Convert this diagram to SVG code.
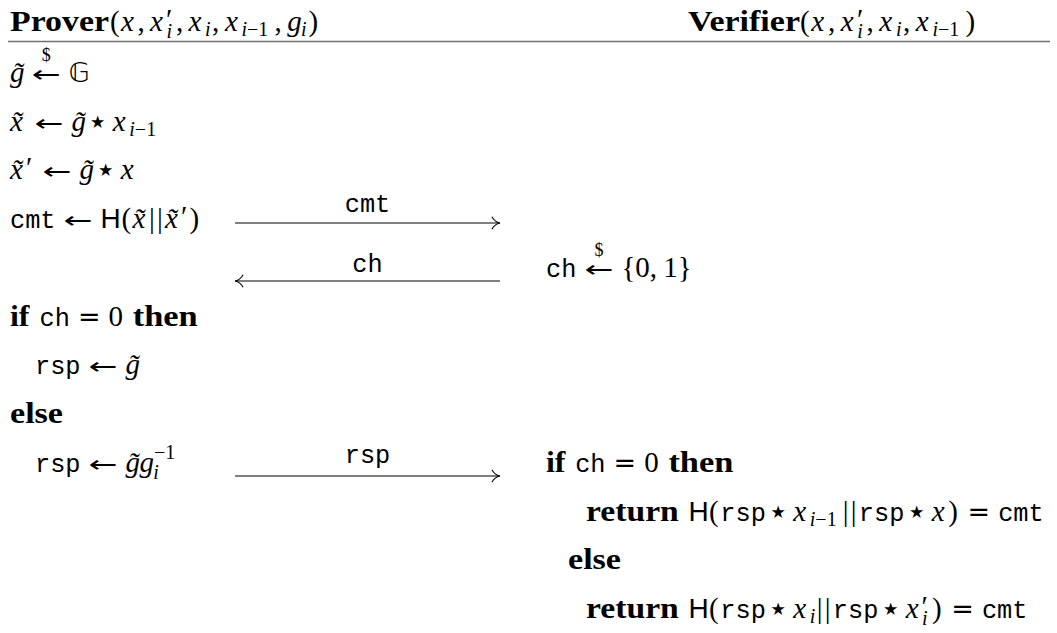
<svg xmlns="http://www.w3.org/2000/svg" width="1057" height="633" viewBox="0 0 1057 633">
<style>
text { font-family: "Liberation Serif", serif; font-size: 29px; fill: #000; }
.it { font-style: italic; }
.bf { font-weight: bold; }
.tt { font-family: "Liberation Mono", monospace; font-size: 25.3px; font-style: normal; }
.sf { font-family: "Liberation Sans", sans-serif; font-size: 28px; font-style: normal; }
.sc { font-size: 20px; }
.ar { font-family: "DejaVu Sans", sans-serif; font-size: 23px; }
.eq { font-family: "DejaVu Sans", sans-serif; font-size: 26px; }
.op { font-family: "DejaVu Sans", sans-serif; font-size: 34px; font-style: normal; }
.bb { font-family: "DejaVu Sans", sans-serif; font-size: 27px; }
.dl { font-family: "Liberation Serif", serif; font-size: 18px; }
.lbl { font-family: "Liberation Mono", monospace; font-size: 25.3px; text-anchor: middle; }
.ln { stroke: #000; stroke-width: 1.15; fill: none; }
.rule { stroke: #707070; stroke-width: 1.7; }
</style>
<defs>
<marker id="headR" viewBox="0 0 10 14" refX="9.6" refY="7" markerWidth="10" markerHeight="14" markerUnits="userSpaceOnUse" orient="auto">
<path d="M1.5,0.8 C3.5,4.5 6.5,6.4 9.6,7 C6.5,7.6 3.5,9.5 1.5,13.2" fill="none" stroke="#000" stroke-width="1.1"/>
</marker>
</defs>

<g id="prover-header">
<text class="bf" x="10" y="31" textLength="99" lengthAdjust="spacingAndGlyphs">Prover</text>
<text y="31"><tspan x="110">(</tspan><tspan class="it" x="121">x</tspan><tspan x="137.5">,</tspan><tspan class="it" x="150">x</tspan><tspan x="166" y="29">′</tspan><tspan class="it sc" x="166.5" y="38">i</tspan><tspan x="176" y="31">,</tspan><tspan class="it" x="188.5">x</tspan><tspan class="it sc" x="205" y="36">i</tspan><tspan x="212" y="31">,</tspan><tspan class="it" x="225">x</tspan><tspan class="it sc" x="241.5" y="36">i</tspan><tspan class="sc">−1</tspan><tspan x="274.5" y="31">,</tspan><tspan class="it" x="287.3">g</tspan><tspan class="it sc" x="301" y="36">i</tspan><tspan x="308.5" y="31">)</tspan></text>
</g>

<g id="verifier-header">
<text class="bf" x="688" y="31" textLength="112" lengthAdjust="spacingAndGlyphs">Verifier</text>
<text y="31"><tspan x="800">(</tspan><tspan class="it" x="811.3">x</tspan><tspan x="828">,</tspan><tspan class="it" x="840.8">x</tspan><tspan x="857" y="29">′</tspan><tspan class="it sc" x="857.3" y="38">i</tspan><tspan x="866.5" y="31">,</tspan><tspan class="it" x="879.3">x</tspan><tspan class="it sc" x="896" y="36">i</tspan><tspan x="903" y="31">,</tspan><tspan class="it" x="915.8">x</tspan><tspan class="it sc" x="932.4" y="36">i</tspan><tspan class="sc">−1</tspan><tspan x="965.5" y="31">)</tspan></text>
</g>

<line id="header-rule" class="rule" x1="8" y1="41.5" x2="1050" y2="41.5"/>

<g id="prover-sample">
<text class="it" x="10" y="82">g̃</text>
<text y="82"><tspan class="ar" x="31.8" textLength="29" lengthAdjust="spacingAndGlyphs">←</tspan><tspan class="dl" x="41.8" y="61">$</tspan></text>
<text class="bb" x="68.8" y="82">𝔾</text>
</g>

<g id="prover-xtilde">
<text class="it" x="10" y="131">x̃</text>
<text class="ar" x="34.6" y="131" textLength="29" lengthAdjust="spacingAndGlyphs">←</text>
<text y="131"><tspan class="it" x="71.6">g̃</tspan><tspan class="op" x="87" y="133">⋆</tspan><tspan class="it" x="112.7" y="131">x</tspan><tspan class="it sc" x="129.3" y="136">i</tspan><tspan class="sc">−1</tspan></text>
</g>

<g id="prover-xtilde-prime">
<text y="179"><tspan class="it" x="10">x̃</tspan><tspan x="26" y="177">′</tspan></text>
<text class="ar" x="42.6" y="179" textLength="29" lengthAdjust="spacingAndGlyphs">←</text>
<text y="179"><tspan class="it" x="79.6">g̃</tspan><tspan class="op" x="95" y="181">⋆</tspan><tspan class="it" x="120.7" y="179">x</tspan></text>
</g>

<g id="prover-commit">
<text class="tt" x="10" y="228">cmt</text>
<text class="ar" x="63.6" y="228" textLength="29" lengthAdjust="spacingAndGlyphs">←</text>
<text y="228"><tspan class="sf" x="100.6">H</tspan><tspan x="121.5">(</tspan><tspan class="it" x="132.4">x̃</tspan><tspan x="149">|</tspan><tspan x="157">|</tspan><tspan class="it" x="165">x̃</tspan><tspan x="181" y="226">′</tspan><tspan x="189.6" y="228">)</tspan></text>
</g>

<g id="verifier-challenge">
<text class="tt" x="546" y="277">ch</text>
<text y="277"><tspan class="ar" x="584.4" textLength="29" lengthAdjust="spacingAndGlyphs">←</tspan><tspan class="dl" x="594.5" y="256">$</tspan></text>
<text y="277"><tspan x="621.4">{0,</tspan><tspan x="663.2">1}</tspan></text>
</g>

<g id="prover-if">
<text class="bf" x="10" y="326" textLength="19.5" lengthAdjust="spacingAndGlyphs">if</text>
<text class="tt" x="39.5" y="326">ch</text>
<text class="eq" x="77.9" y="326" textLength="22.6" lengthAdjust="spacingAndGlyphs">=</text>
<text x="108.5" y="326">0</text>
<text class="bf" x="132.7" y="326" textLength="65" lengthAdjust="spacingAndGlyphs">then</text>
</g>

<g id="prover-rsp0">
<text class="tt" x="35" y="374">rsp</text>
<text class="ar" x="88.6" y="374" textLength="29" lengthAdjust="spacingAndGlyphs">←</text>
<text class="it" x="125.6" y="374">g̃</text>
</g>

<g id="prover-else">
<text class="bf" x="10" y="423" textLength="53" lengthAdjust="spacingAndGlyphs">else</text>
</g>

<g id="prover-rsp1">
<text class="tt" x="35" y="472">rsp</text>
<text class="ar" x="88.6" y="472" textLength="29" lengthAdjust="spacingAndGlyphs">←</text>
<text y="472"><tspan class="it" x="125.6">g̃</tspan><tspan class="it" x="139.4">g</tspan><tspan class="sc" x="154" y="459">−1</tspan><tspan class="it sc" x="153.2" y="479">i</tspan></text>
</g>

<g id="verifier-if">
<text class="bf" x="546" y="472" textLength="19.5" lengthAdjust="spacingAndGlyphs">if</text>
<text class="tt" x="575.2" y="472">ch</text>
<text class="eq" x="613.6" y="472" textLength="22.6" lengthAdjust="spacingAndGlyphs">=</text>
<text x="644.2" y="472">0</text>
<text class="bf" x="668.4" y="472" textLength="65" lengthAdjust="spacingAndGlyphs">then</text>
</g>

<g id="verifier-return0">
<text class="bf" x="586" y="521" textLength="92.8" lengthAdjust="spacingAndGlyphs">return</text>
<text y="521"><tspan class="sf" x="688.5">H</tspan><tspan x="709">(</tspan><tspan class="tt" x="720.3">rsp</tspan><tspan class="op" x="767.5" y="523">⋆</tspan><tspan class="it" x="793.2" y="521">x</tspan><tspan class="it sc" x="809.8" y="526">i</tspan><tspan class="sc">−1</tspan><tspan x="842.8" y="521">|</tspan><tspan x="850.8">|</tspan><tspan class="tt" x="858.8">rsp</tspan><tspan class="op" x="906" y="523">⋆</tspan><tspan class="it" x="931.7" y="521">x</tspan><tspan x="948.3">)</tspan></text>
<text class="eq" x="967.6" y="521" textLength="22.6" lengthAdjust="spacingAndGlyphs">=</text>
<text class="tt" x="998.2" y="521">cmt</text>
</g>

<g id="verifier-else">
<text class="bf" x="568" y="569" textLength="53" lengthAdjust="spacingAndGlyphs">else</text>
</g>

<g id="verifier-return1">
<text class="bf" x="586" y="618" textLength="92.8" lengthAdjust="spacingAndGlyphs">return</text>
<text y="618"><tspan class="sf" x="688.5">H</tspan><tspan x="709">(</tspan><tspan class="tt" x="720.3">rsp</tspan><tspan class="op" x="767.5" y="620">⋆</tspan><tspan class="it" x="793.2" y="618">x</tspan><tspan class="it sc" x="809.8" y="623">i</tspan><tspan x="816.8" y="618">|</tspan><tspan x="824.8">|</tspan><tspan class="tt" x="832.8">rsp</tspan><tspan class="op" x="880" y="620">⋆</tspan><tspan class="it" x="905.7" y="618">x</tspan><tspan x="921.5" y="616">′</tspan><tspan class="it sc" x="922" y="625">i</tspan><tspan x="932" y="618">)</tspan></text>
<text class="eq" x="951.3" y="618" textLength="22.6" lengthAdjust="spacingAndGlyphs">=</text>
<text class="tt" x="981.9" y="618">cmt</text>
</g>

<g id="connectors">
<line class="ln" x1="235" y1="223" x2="500" y2="223" marker-end="url(#headR)"/>
<text class="lbl" x="367.5" y="212">cmt</text>
<line class="ln" x1="500" y1="281" x2="235" y2="281" marker-end="url(#headR)"/>
<text class="lbl" x="367.5" y="272">ch</text>
<line class="ln" x1="235" y1="476" x2="500" y2="476" marker-end="url(#headR)"/>
<text class="lbl" x="367.5" y="463">rsp</text>
</g>
</svg>
